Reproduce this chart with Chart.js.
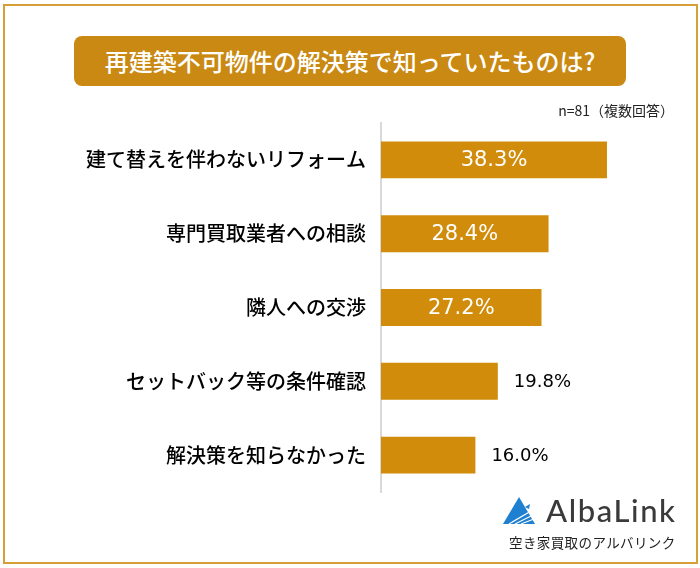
<!DOCTYPE html>
<html lang="ja">
<head>
<meta charset="utf-8">
<script src="https://cdn.jsdelivr.net/npm/chart.js@4.4.1/dist/chart.umd.min.js"></script>
<style>
    html, body { margin: 0; padding: 0; background: #fff; }
    #wrap { position: relative; width: 700px; height: 568px; overflow: hidden; font-family: "Noto Sans CJK JP", sans-serif; }
    #frame { position: absolute; left: 3px; top: 4px; width: 691px; height: 556px; border: 2px solid #d79f38; }
    #title {
        position: absolute; left: 74px; top: 36px; width: 552px; height: 50px;
        background: #c98912; border-radius: 8px; color: #fff;
        font-size: 24px; font-weight: 500; line-height: 50px; text-align: center;
    }
    #note { position: absolute; right: 26px; top: 100px; font-size: 14px; color: #222; }
    #chart { position: absolute; left: 0; top: 0; }
    #logo { position: absolute; left: 500px; top: 494px; width: 190px; height: 60px; }
    #logo svg { position: absolute; left: 3px; top: 3px; }
    #logo .name { position: absolute; left: 46px; top: -3px; font-family: "Lato", sans-serif; font-size: 31px; font-weight: 500; color: #3a3a3a; letter-spacing: 1.6px; }
    #logo .sub { position: absolute; left: 9px; top: 38px; font-size: 13.5px; color: #222; letter-spacing: 0.4px; }
</style>
</head>
<body>
<div id="wrap">
    <canvas id="chart" width="700" height="568"></canvas>
    <div id="frame"></div>
    <div id="title">再建築不可物件の解決策で知っていたものは?</div>
    <div id="note">n=81（複数回答）</div>
    <div id="logo">
        <svg width="32" height="28" viewBox="0 0 32 28">
            <polygon points="16,0 0,27 32,27" fill="#1f7fd0"/>
            <line x1="6" y1="27" x2="28" y2="14" stroke="#fff" stroke-width="1.2"/>
            <line x1="12" y1="27" x2="30" y2="18" stroke="#fff" stroke-width="1.2"/>
            <line x1="18" y1="27" x2="31" y2="22" stroke="#fff" stroke-width="1.2"/>
            <polygon points="22,10 27,7 26,12" fill="#1f7fd0"/>
        </svg>
        <div class="name">AlbaLink</div>
        <div class="sub">空き家買取のアルバリンク</div>
    </div>
</div>
<script>
var categories = ['建て替えを伴わないリフォーム', '専門買取業者への相談', '隣人への交渉', 'セットバック等の条件確認', '解決策を知らなかった'];
var values = [38.3, 28.4, 27.2, 19.8, 16.0];

var barColor = '#d08c0a';

var valueLabels = {
    id: 'valueLabels',
    afterDatasetsDraw: function (chart) {
        var ctx = chart.ctx;
        var meta = chart.getDatasetMeta(0);
        ctx.save();
        ctx.textBaseline = 'middle';
        meta.data.forEach(function (bar, i) {
            var v = values[i];
            var text = v.toFixed(1) + '%';
            if (v > 25) {
                ctx.font = '21px "DejaVu Sans"';
                ctx.fillStyle = '#fff';
                ctx.textAlign = 'center';
                ctx.fillText(text, (bar.base + bar.x) / 2, bar.y + 1);
            } else {
                ctx.font = '18px "DejaVu Sans"';
                ctx.fillStyle = '#000';
                ctx.textAlign = 'left';
                ctx.fillText(text, bar.x + 16, bar.y + 1);
            }
        });
        ctx.restore();
    }
};

var config = {
    type: 'bar',
    data: {
        labels: categories,
        datasets: [{
            data: values,
            backgroundColor: barColor,
            categoryPercentage: 1,
            barPercentage: 0.5
        }]
    },
    options: {
        indexAxis: 'y',
        responsive: false,
        animation: false,
        layout: {
            padding: { left: 0, right: 24, top: 123, bottom: 76 }
        },
        plugins: {
            legend: { display: false },
            title: { display: false },
            tooltip: { enabled: false }
        },
        scales: {
            x: {
                display: false,
                min: 0,
                max: 50
            },
            y: {
                grid: { display: false, drawTicks: false },
                border: { display: true, color: '#d9d9d9', width: 2 },
                ticks: {
                    color: '#000',
                    padding: 15,
                    font: { family: '"Noto Sans CJK JP"', size: 20, weight: 500 }
                },
                afterFit: function (scale) {
                    scale.width = 381;
                }
            }
        }
    },
    plugins: [valueLabels]
};

var ctx = document.getElementById('chart').getContext('2d');
new Chart(ctx, config);
</script>
</body>
</html>
